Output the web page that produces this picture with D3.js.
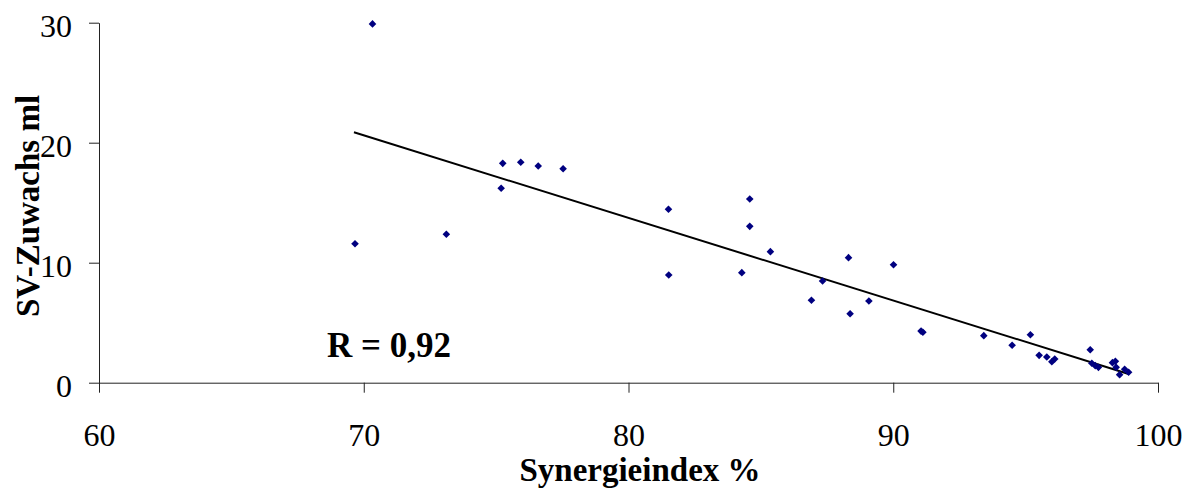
<!DOCTYPE html>
<html>
<head>
<meta charset="utf-8">
<script src="https://cdn.jsdelivr.net/npm/d3@7"></script>
<style>
  body { margin: 0; background: #fff; }
  svg { display: block; }
  text { font-family: "Liberation Serif", "Times New Roman", serif; fill: #000; }
</style>
</head>
<body>
<svg id="chart"></svg>
<script>
const width = 1195;
const height = 488;

// Synergieindex % (x) and SV-Zuwachs ml (y)
const synergie = [69.67, 70.33, 73.12, 75.25, 75.19, 75.93, 76.59, 77.53, 81.51, 81.52,
    84.58, 84.58, 84.28, 85.36, 88.31, 87.33, 86.91, 89.08, 88.37, 90.01,
    91.05, 91.12, 93.42, 94.49, 95.18, 95.51, 95.80, 95.99, 96.10, 97.44,
    97.50, 97.63, 97.75, 98.28, 98.39, 98.42, 98.55, 98.74, 98.89];
const zuwachs = [11.58, 29.9, 12.37, 18.28, 16.2, 18.37, 18.06, 17.83, 14.45, 8.97,
    15.31, 13.03, 9.17, 10.92, 10.42, 8.47, 6.87, 6.81, 5.75, 9.83,
    4.3, 4.2, 3.92, 3.12, 4.0, 2.28, 2.14, 1.75, 1.97, 2.75,
    1.62, 1.42, 1.28, 1.67, 1.78, 1.28, 0.67, 1.12, 0.87];

// trend line endpoints
const trendX = [69.63, 98.89];
const trendY = [20.87, 0.73];

const xTicks = [60, 70, 80, 90, 100];
const yTicks = [0, 10, 20, 30];
const rLabel = "R = 0,92";

const svg = d3.select("#chart").attr("width", width).attr("height", height);

const x = d3.scaleLinear().domain([60, 100]).range([99, 1158]);
const y = d3.scaleLinear().domain([0, 30]).range([382.7, 22.7]);

// axes
const xAxis = svg.append("g")
    .attr("transform", `translate(0,${y(0)})`)
    .call(d3.axisBottom(x).tickValues(xTicks).tickSize(10).tickSizeOuter(0));
xAxis.select(".domain").attr("stroke", "#222");
xAxis.selectAll(".tick line").attr("stroke", "#222");
xAxis.selectAll(".tick text")
    .attr("y", 63).attr("dy", 0)
    .style("font-family", "Liberation Serif, serif")
    .style("font-size", "32px").attr("fill", "#000");

const yAxis = svg.append("g")
    .attr("transform", `translate(${x(60)},0)`)
    .call(d3.axisLeft(y).tickValues(yTicks).tickSize(10).tickSizeOuter(0));
yAxis.select(".domain").attr("stroke", "#222");
yAxis.selectAll(".tick line").attr("stroke", "#222");
yAxis.selectAll(".tick text")
    .attr("x", -27).attr("dy", 14)
    .style("font-family", "Liberation Serif, serif")
    .style("font-size", "32px").attr("fill", "#000");

// trend line
svg.append("line")
    .attr("x1", x(trendX[0])).attr("y1", y(trendY[0]))
    .attr("x2", x(trendX[1])).attr("y2", y(trendY[1]))
    .attr("stroke", "#000").attr("stroke-width", 2);

// points
const pts = synergie.map((v, i) => ({sx: v, sy: zuwachs[i]}));
svg.append("g").selectAll("path")
    .data(pts)
    .join("path")
    .attr("d", "M0,-3.8L3.8,0L0,3.8L-3.8,0Z")
    .attr("fill", "#000080")
    .attr("transform", d => `translate(${x(d.sx)},${y(d.sy)})`);

// labels
svg.append("text")
    .attr("x", 327).attr("y", 357)
    .style("font-size", "35px").style("font-weight", "bold")
    .text(rLabel);

svg.append("text")
    .attr("x", 640).attr("y", 481)
    .attr("text-anchor", "middle")
    .style("font-size", "33px").style("font-weight", "bold")
    .text("Synergieindex %");

svg.append("text")
    .attr("transform", "translate(39,206) rotate(-90)")
    .attr("text-anchor", "middle")
    .style("font-size", "33px").style("font-weight", "bold")
    .text("SV-Zuwachs ml");
</script>
</body>
</html>
